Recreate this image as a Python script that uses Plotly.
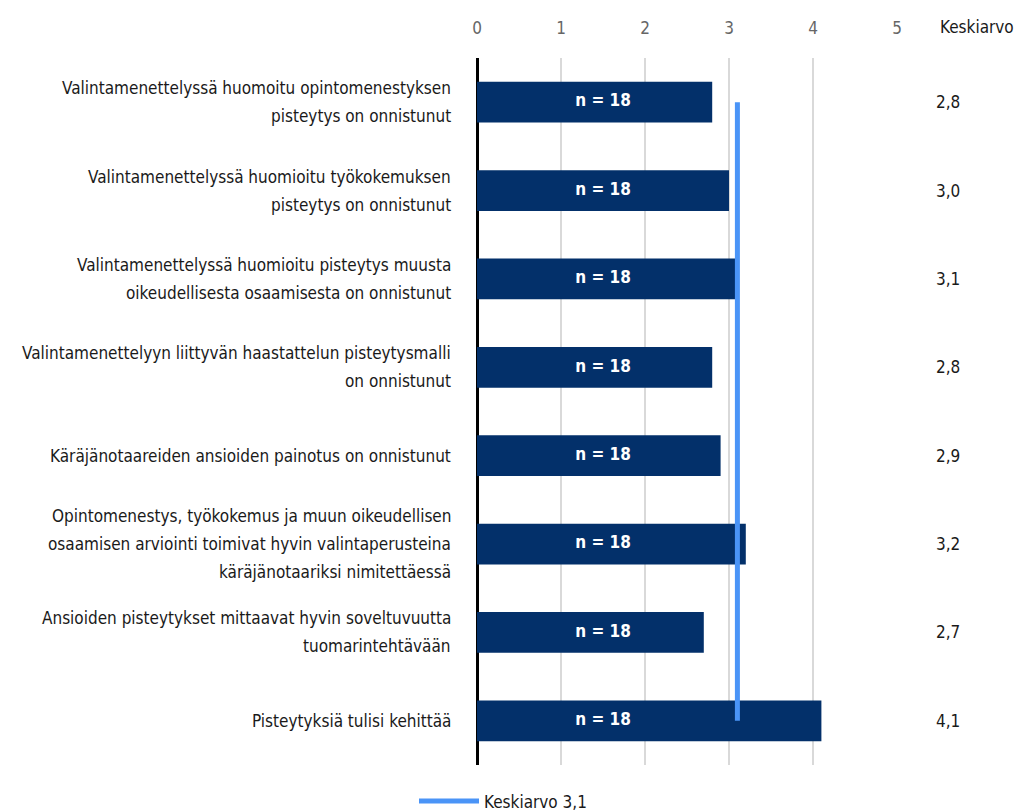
import plotly.graph_objects as go

# Väittämät (rivinvaihdot kuten kaaviossa)
vaittamat = [
    "Valintamenettelyssä huomoitu opintomenestyksen<br>pisteytys on onnistunut",
    "Valintamenettelyssä huomioitu työkokemuksen<br>pisteytys on onnistunut",
    "Valintamenettelyssä huomioitu pisteytys muusta<br>oikeudellisesta osaamisesta on onnistunut",
    "Valintamenettelyyn liittyvän haastattelun pisteytysmalli<br>on onnistunut",
    "Käräjänotaareiden ansioiden painotus on onnistunut",
    "Opintomenestys, työkokemus ja muun oikeudellisen<br>osaamisen arviointi toimivat hyvin valintaperusteina<br>käräjänotaariksi nimitettäessä",
    "Ansioiden pisteytykset mittaavat hyvin soveltuvuutta<br>tuomarintehtävään",
    "Pisteytyksiä tulisi kehittää",
]
keskiarvot = [2.8, 3.0, 3.1, 2.8, 2.9, 3.2, 2.7, 4.1]
vastaajat = [18, 18, 18, 18, 18, 18, 18, 18]
kokonaiskeskiarvo = 3.1
x_ticks = [0, 1, 2, 3, 4, 5]

FONT = "DejaVu Sans Condensed, sans-serif"
NAVY = "#03306a"
LIGHT_BLUE = "#4a94f7"
TEXT = "#1a1a1a"

kategoriat = [f"k{i}" for i in range(len(vaittamat))]

fig = go.Figure()

fig.add_trace(go.Bar(
    x=keskiarvot, y=kategoriat, orientation="h",
    marker=dict(color=NAVY, line=dict(width=0)),
    showlegend=False, hoverinfo="skip",
))

# n-merkinnät palkkien sisällä
fig.add_trace(go.Scatter(
    x=[1.5] * len(kategoriat), y=kategoriat, mode="text",
    text=[f"<b>n = {n}</b>" for n in vastaajat],
    textfont=dict(family=FONT, size=17, color="white"),
    showlegend=False, hoverinfo="skip",
))

# Kokonaiskeskiarvon pystyviiva
fig.add_trace(go.Scatter(
    x=[kokonaiskeskiarvo, kokonaiskeskiarvo], y=[kategoriat[0], kategoriat[-1]],
    mode="lines", line=dict(color=LIGHT_BLUE, width=5),
    name=f"Keskiarvo {str(kokonaiskeskiarvo).replace('.', ',')}",
    hoverinfo="skip",
))

annotations = []
LINE_H = 28
for kat, teksti, ka in zip(kategoriat, vaittamat, keskiarvot):
    rivit = teksti.split("<br>")
    m = len(rivit)
    for j, rivi in enumerate(rivit):
        annotations.append(dict(
            x=0, xref="paper", y=kat, yref="y", xanchor="right", yanchor="middle",
            xshift=-24, yshift=((m - 1) / 2 - j) * LINE_H,
            text=rivi, showarrow=False,
            font=dict(family=FONT, size=17, color=TEXT),
        ))
    annotations.append(dict(
        x=1.121, xref="paper", y=kat, yref="y", xanchor="center", yanchor="middle",
        text=f"{ka:.1f}".replace(".", ","), showarrow=False,
        font=dict(family=FONT, size=17, color=TEXT),
    ))

annotations.append(dict(
    x=1.283, xref="paper", y=1, yref="paper", yanchor="middle", xanchor="right",
    yshift=31, text="Keskiarvo", showarrow=False,
    font=dict(family=FONT, size=17, color=TEXT),
))

fig.update_layout(
    width=1016, height=812,
    margin=dict(l=477, r=119, t=58, b=47, autoexpand=False),
    paper_bgcolor="white", plot_bgcolor="white",
    bargap=0.54,
    font=dict(family=FONT, size=17, color=TEXT),
    annotations=annotations,
    legend=dict(
        orientation="h", x=-0.15, xanchor="left",
        yref="container", y=0.013, yanchor="middle",
        itemwidth=60,
        font=dict(family=FONT, size=17, color=TEXT),
    ),
    xaxis=dict(
        side="top", range=[0, 5], tickvals=x_ticks,
        tickfont=dict(family=FONT, size=17, color="#666666"),
        showgrid=True, gridcolor="#d9d9d9", gridwidth=2,
        zeroline=True, zerolinecolor="black", zerolinewidth=3,
        showline=False, ticks="", ticklabelstandoff=20,
        fixedrange=True,
    ),
    yaxis=dict(
        categoryorder="array", categoryarray=kategoriat,
        autorange="reversed", showticklabels=False,
        showgrid=False, zeroline=False, showline=False, ticks="",
    ),
)

fig.write_html("out.html")
